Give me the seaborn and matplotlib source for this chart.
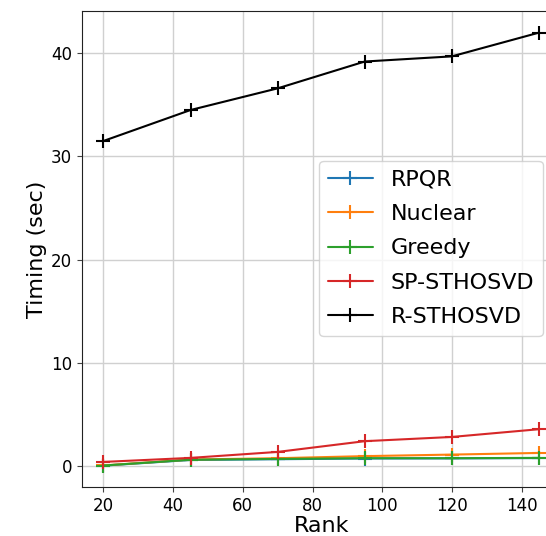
import matplotlib
matplotlib.use("Agg")
import matplotlib.pyplot as plt
import seaborn as sns
import pandas as pd

ranks = [20, 45, 70, 95, 120, 145]
rpqr = [0.03, 0.58, 0.65, 0.72, 0.73, 0.76]
nuclear = [0.05, 0.62, 0.75, 0.95, 1.10, 1.26]
greedy = [0.04, 0.60, 0.68, 0.75, 0.75, 0.78]
sp_sthosvd = [0.39, 0.78, 1.36, 2.40, 2.81, 3.56]
r_sthosvd = [31.5, 34.5, 36.6, 39.2, 39.7, 42.0]

names = ["RPQR", "Nuclear", "Greedy", "SP-STHOSVD", "R-STHOSVD"]
series = [rpqr, nuclear, greedy, sp_sthosvd, r_sthosvd]
colors = ["#1f77b4", "#ff7f0e", "#2ca02c", "#d62728", "black"]

sns.set_style("ticks")
plt.rcParams["font.family"] = ["DejaVu Sans"]
plt.rcParams["text.color"] = "black"
plt.rcParams["axes.labelcolor"] = "black"

fig = plt.figure(figsize=(5.46, 5.36), dpi=100)
# the original figure is cut off on the right, so the axes run past the edge
ax = fig.add_axes([0.1496, 0.0909, 0.8774, 0.8886])

for name, vals, c in zip(names, series, colors):
    df = pd.DataFrame({"Rank": ranks, "Timing": vals})
    sns.lineplot(data=df, x="Rank", y="Timing", ax=ax, color=c, marker="+",
                 markersize=10.5, markeredgewidth=1.5, markeredgecolor=c,
                 linewidth=1.5, label=name)

ax.grid(True, color="#d0d0d0", linewidth=1)
ax.set_xticks([20, 40, 60, 80, 100, 120, 140])
ax.set_yticks([0, 10, 20, 30, 40])
ax.tick_params(labelsize=12, colors="#444444", labelcolor="black")
for s in ax.spines.values():
    s.set_color("#222222")
ax.set_xlabel("Rank", fontsize=16, labelpad=1)
ax.set_ylabel("Timing (sec)", fontsize=16, labelpad=3)
ax.legend(loc="upper left", bbox_to_anchor=(0.496, 0.686), fontsize=16,
          labelspacing=0.65, borderaxespad=0)

fig.savefig("out.png", dpi=100)
